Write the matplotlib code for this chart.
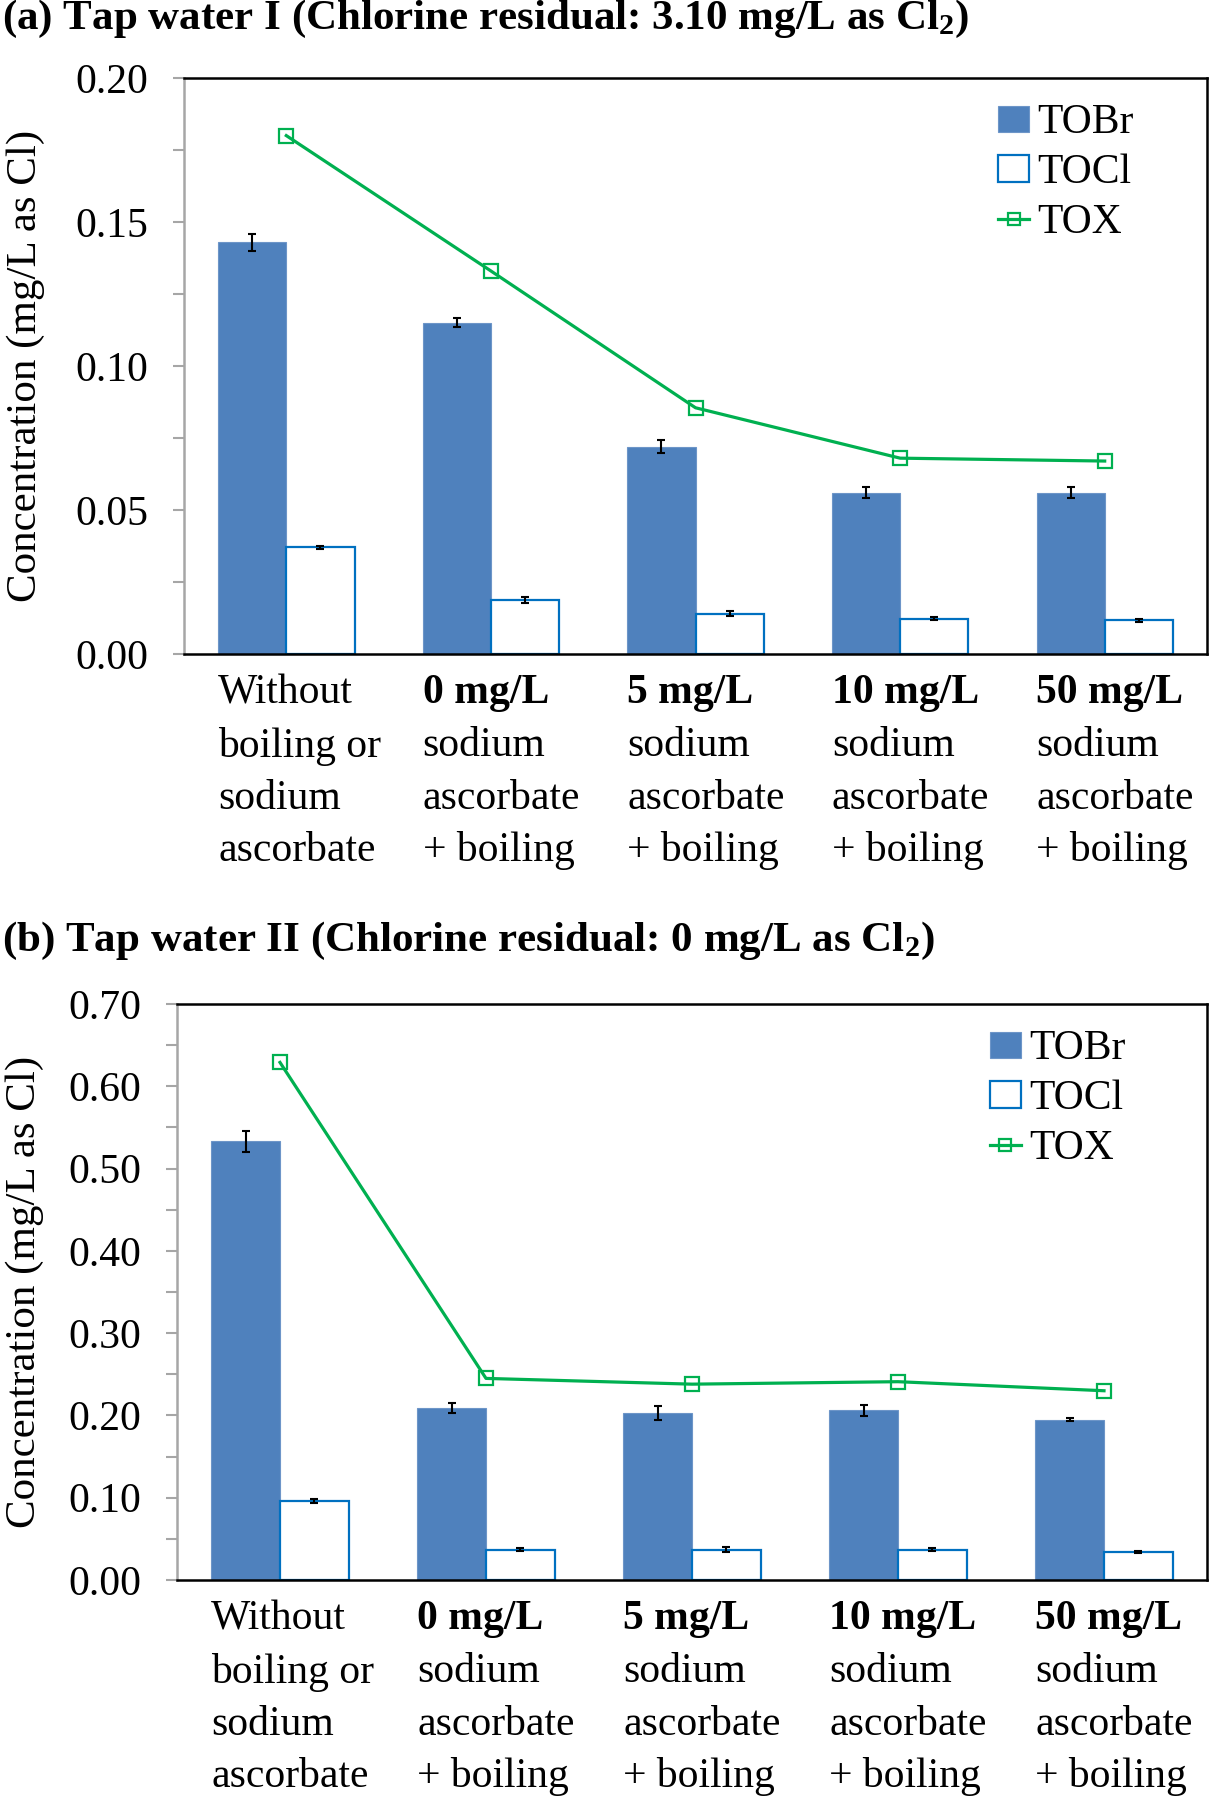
"""
Tap water TOBr / TOCl / TOX chart, two panels
"""
import numpy as np
import matplotlib
matplotlib.use('Agg')
import matplotlib.pyplot as plt
from matplotlib.ticker import MultipleLocator, FormatStrFormatter
import matplotlib.transforms as mtransforms

plt.rcParams['font.family'] = ['Liberation Serif', 'DejaVu Serif']
plt.rcParams['mathtext.default'] = 'regular'

# 数据
categories = [
    ['Without', 'boiling or', 'sodium', 'ascorbate'],
    ['0 mg/L', 'sodium', 'ascorbate', '+ boiling'],
    ['5 mg/L', 'sodium', 'ascorbate', '+ boiling'],
    ['10 mg/L', 'sodium', 'ascorbate', '+ boiling'],
    ['50 mg/L', 'sodium', 'ascorbate', '+ boiling'],
]
first_line_bold = [False, True, True, True, True]

a_tobr = [0.143, 0.115, 0.072, 0.056, 0.056]
a_tobr_err = [0.003, 0.0015, 0.0022, 0.002, 0.002]
a_tocl = [0.037, 0.0187, 0.014, 0.0123, 0.0117]
a_tocl_err = [0.0004, 0.0010, 0.0008, 0.0006, 0.0005]
a_tox = [0.180, 0.133, 0.0855, 0.068, 0.067]

b_tobr = [0.533, 0.209, 0.203, 0.206, 0.195]
b_tobr_err = [0.013, 0.006, 0.009, 0.007, 0.002]
b_tocl = [0.096, 0.037, 0.037, 0.037, 0.034]
b_tocl_err = [0.002, 0.002, 0.003, 0.002, 0.0015]
b_tox = [0.629, 0.245, 0.238, 0.241, 0.230]

COLORS = {'tobr': '#4F81BD', 'tocl': '#0070C0', 'tox': '#00B050'}
FS = 30


def draw_panel(ax, tobr, tobr_err, tocl, tocl_err, tox, ymax, major, title,
               title_y, legend_anchor, ylabel_x):
    x = np.arange(len(tobr))
    w = 1 / 3
    h1 = ax.bar(x - w / 2, tobr, w, color=COLORS['tobr'], edgecolor='#6D95C8',
                linewidth=0.8, label='TOBr', zorder=2)
    h2 = ax.bar(x + w / 2, tocl, w, color='white', edgecolor=COLORS['tocl'],
                linewidth=1.6, label='TOCl', zorder=2)
    ax.errorbar(x - w / 2, tobr, yerr=tobr_err, fmt='none', ecolor='black',
                elinewidth=1.5, capsize=3, capthick=1.5, zorder=3)
    ax.errorbar(x + w / 2, tocl, yerr=tocl_err, fmt='none', ecolor='black',
                elinewidth=1.5, capsize=3, capthick=1.5, zorder=3)
    h3, = ax.plot(x, tox, color=COLORS['tox'], linewidth=2.3, marker='s',
                  markersize=10, markerfacecolor='none',
                  markeredgecolor=COLORS['tox'], markeredgewidth=1.6,
                  label='TOX', zorder=4)

    ax.set_xlim(-0.5, len(tobr) - 0.5)
    ax.set_ylim(0, ymax)
    ax.yaxis.set_major_locator(MultipleLocator(major))
    ax.yaxis.set_minor_locator(MultipleLocator(major / 2))
    ax.yaxis.set_major_formatter(FormatStrFormatter('%.2f'))
    ax.tick_params(axis='y', which='both', direction='out', length=8,
                   width=1.5, color='#A6A6A6', labelsize=FS, pad=18)
    ax.tick_params(axis='x', bottom=False, labelbottom=False)

    ax.spines['left'].set_color('#A6A6A6')
    ax.spines['left'].set_linewidth(1.8)
    for s in ['top', 'right', 'bottom']:
        ax.spines[s].set_color('black')
        ax.spines[s].set_linewidth(1.8)

    ax.set_ylabel('Concentration (mg/L as Cl)', fontsize=FS + 1)
    ax.yaxis.label.set_verticalalignment('center')
    ax.yaxis.set_label_coords(ylabel_x, 0.5)

    # 多行分类标签，首行部分加粗
    trans = mtransforms.blended_transform_factory(ax.transData, ax.transAxes)
    fig = ax.figure
    h_px = ax.get_position().height * fig.get_figheight() * fig.dpi
    offsets = [39, 92, 145, 197]
    for i, lines in enumerate(categories):
        for j, line in enumerate(lines):
            bold = (j == 0 and first_line_bold[i])
            ax.text(i - w, -offsets[j] / h_px, line, transform=trans,
                    ha='left', va='center', fontsize=FS,
                    fontweight='bold' if bold else 'normal', clip_on=False)

    leg = ax.legend([h1, h2, h3], ['TOBr', 'TOCl', 'TOX'], loc='upper left',
                    bbox_to_anchor=legend_anchor, frameon=False,
                    fontsize=FS, borderpad=0, borderaxespad=0,
                    handlelength=0.75, handleheight=0.6, handletextpad=0.2,
                    labelspacing=0.27)
    leg.legend_handles[2].set_markersize(8)

    fig.text(0.002, title_y, title, fontsize=FS + 1, fontweight='bold',
             ha='left', va='center')


fig = plt.figure(figsize=(12.09, 18.0), dpi=100)
ax_a = fig.add_axes([184 / 1209, 1 - 654 / 1800, 1023 / 1209, 576 / 1800])
ax_b = fig.add_axes([177 / 1209, 1 - 1580 / 1800, 1030 / 1209, 576 / 1800])

draw_panel(ax_a, a_tobr, a_tobr_err, a_tocl, a_tocl_err, a_tox, 0.20, 0.05,
           '(a) Tap water I (Chlorine residual: 3.10 mg/L as Cl$_2$)',
           1 - 19 / 1800, (0.7957, 0.955), -0.155)
draw_panel(ax_b, b_tobr, b_tobr_err, b_tocl, b_tocl_err, b_tox, 0.70, 0.10,
           '(b) Tap water II (Chlorine residual: 0 mg/L as Cl$_2$)',
           1 - 941 / 1800, (0.789, 0.955), -0.148)

fig.savefig('out.png', dpi=100)
